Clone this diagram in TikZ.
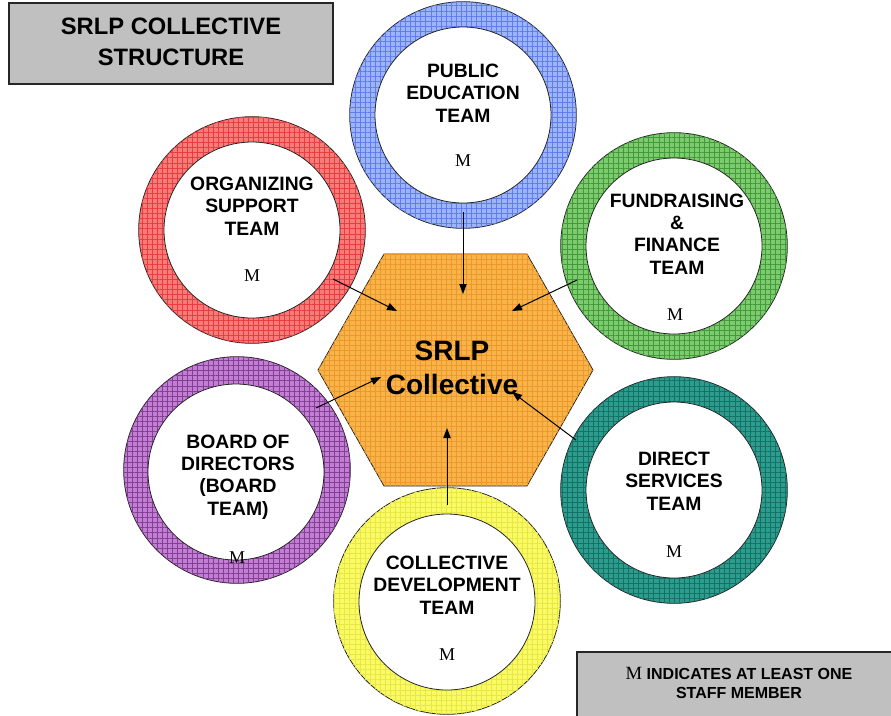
\documentclass[tikz,border=0pt]{standalone}
\usepackage{fontspec}
\setmainfont{Liberation Sans}
\newfontfamily\mserif{Liberation Serif}
\usetikzlibrary{patterns.meta,arrows.meta}
\definecolor{boxgray}{HTML}{C0C0C0}
\definecolor{redF}{HTML}{F77B7B}\definecolor{redL}{HTML}{E02828}
\definecolor{blueF}{HTML}{9DB3FA}\definecolor{blueL}{HTML}{4A6CE8}
\definecolor{greenF}{HTML}{7DCB6E}\definecolor{greenL}{HTML}{2E8A2A}
\definecolor{tealF}{HTML}{2C9C8E}\definecolor{tealL}{HTML}{0F6358}
\definecolor{purpleF}{HTML}{C27ED2}\definecolor{purpleL}{HTML}{6E2A7E}
\definecolor{yellowF}{HTML}{FAFA66}\definecolor{yellowL}{HTML}{E2E23A}
\definecolor{orangeF}{HTML}{F8B44A}\definecolor{orangeL}{HTML}{E8901E}
\tikzset{
  gridfill/.style n args={2}{fill=#1,
    postaction={pattern={Lines[angle=0,distance=3.8pt,line width=0.25pt]}, pattern color=#2!75!#1},
    postaction={pattern={Lines[angle=90,distance=3.8pt,line width=0.25pt]}, pattern color=#2!75!#1}},
  outerring/.style={circle, draw=black!85, line width=0.6pt, minimum size=170pt, inner sep=0pt},
  innerdisc/.style={circle, draw=black!85, fill=white, line width=0.6pt, minimum size=132pt, inner sep=0pt},
  teamtext/.style={align=center, font=\bfseries\fontsize{14.5}{16.8}\selectfont, inner sep=0pt},
  mlabel/.style={font=\mserif\fontsize{13.5}{16}\selectfont, inner sep=0pt},
  greybox/.style={fill=boxgray, draw=black!85, line width=0.8pt},
  conn/.style={line width=0.75pt, -{Triangle[length=7.5pt,width=5.5pt]}}
}
\begin{document}
\begin{tikzpicture}[x=0.75pt,y=-0.75pt]
\useasboundingbox (0,0) rectangle (891,715);
\clip (0,0) rectangle (891,715);

% title box
\path[greybox] (9,3) rectangle (333,84);
\node[align=center, font=\bfseries\fontsize{17.8}{23.5}\selectfont] (title) at (171,42) {SRLP COLLECTIVE\\STRUCTURE};

% rings
\node[outerring, gridfill={blueF}{blueL}] (peR) at (463,115) {};
\node[innerdisc] (peI) at (463,115) {};
\node[teamtext] (peT) at (463,93) {PUBLIC\\EDUCATION\\TEAM};
\node[mlabel] (peM) at (463,161) {M};

\node[outerring, gridfill={redF}{redL}] (osR) at (252,230) {};
\node[innerdisc] (osI) at (252,230) {};
\node[teamtext] (osT) at (252,206) {ORGANIZING\\SUPPORT\\TEAM};
\node[mlabel] (osM) at (252,276) {M};

\node[outerring, gridfill={greenF}{greenL}] (ffR) at (674,246) {};
\node[innerdisc] (ffI) at (674,246) {};
\node[teamtext] (ffT) at (677,234) {FUNDRAISING\\\&\\FINANCE\\TEAM};
\node[mlabel] (ffM) at (675,315) {M};

\node[outerring, gridfill={tealF}{tealL}] (dsR) at (674,490) {};
\node[innerdisc] (dsI) at (674,490) {};
\node[teamtext] (dsT) at (674,481) {DIRECT\\SERVICES\\TEAM};
\node[mlabel] (dsM) at (674,552) {M};

\node[outerring, gridfill={purpleF}{purpleL}] (bdR) at (237,470) {};
\node[innerdisc] (bdI) at (236,472) {};
\node[teamtext] (bdT) at (238,477) {BOARD OF\\DIRECTORS\\(BOARD\\TEAM)};
\node[mlabel] (bdM) at (237,558) {M};

\node[outerring, gridfill={yellowF}{yellowL}] (cdR) at (447,601) {};
\node[innerdisc] (cdI) at (447,602) {};
\node[teamtext] (cdT) at (447,585) {COLLECTIVE\\DEVELOPMENT\\TEAM};
\node[mlabel] (cdM) at (447,655) {M};

% hexagon
\coordinate (h1) at (384,254);
\coordinate (h2) at (527,254);
\coordinate (h3) at (593,370);
\coordinate (h4) at (527,486);
\coordinate (h5) at (384,486);
\coordinate (h6) at (318,370);
\path[draw=black!85, line width=0.6pt, gridfill={orangeF}{orangeL}] (h1) -- (h2) -- (h3) -- (h4) -- (h5) -- (h6) -- cycle;
\node[align=center, font=\bfseries\fontsize{21}{25.5}\selectfont, inner sep=0pt] (hex) at (452,368) {SRLP\\Collective};

% connector ends
\coordinate (peS) at (463,212); \coordinate (peE) at (463,294);
\coordinate (osS) at (333,279); \coordinate (osE) at (397,311);
\coordinate (ffS) at (577,280); \coordinate (ffE) at (512,311);
\coordinate (bdS) at (316,408); \coordinate (bdE) at (381,377);
\coordinate (dsS) at (576,440); \coordinate (dsE) at (512,392);
\coordinate (cdS) at (447,505); \coordinate (cdE) at (447,428);
\draw[conn] (peS) -- (peE);
\draw[conn] (osS) -- (osE);
\draw[conn] (ffS) -- (ffE);
\draw[conn] (bdS) -- (bdE);
\draw[conn] (dsS) -- (dsE);
\draw[conn] (cdS) -- (cdE);

% legend box
\path[greybox] (577,652) rectangle (900,725);
\node[align=center, font=\bfseries\fontsize{12}{14.3}\selectfont] (legend) at (739,683) {{\mserif\mdseries\fontsize{14}{14.3}\selectfont M} INDICATES AT LEAST ONE\\STAFF MEMBER};
\end{tikzpicture}
\end{document}
